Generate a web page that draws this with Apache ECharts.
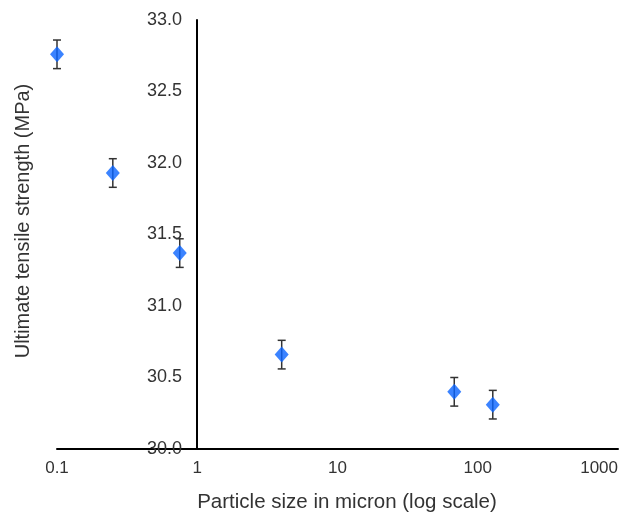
<!DOCTYPE html>
<html>
<head>
<meta charset="utf-8">
<script src="https://cdn.jsdelivr.net/npm/echarts@6/dist/echarts.min.js"></script>
<style>
  html, body { margin: 0; padding: 0; background: #fff; }
  #chart { width: 629px; height: 513px; }
</style>
</head>
<body>
<div id="chart"></div>
<script>
  // particle size (micron) vs ultimate tensile strength (MPa)
  var particleSize = [0.1, 0.25, 0.75, 4, 68, 128]
  var strength = [32.76, 31.93, 31.37, 30.66, 30.40, 30.31]
  var errorBar = [0.1, 0.1, 0.1, 0.1, 0.1, 0.1]
  var yTicks = [30.0, 30.5, 31.0, 31.5, 32.0, 32.5, 33.0]

  var points = particleSize.map(function (x, i) { return [x, strength[i]] })
  var errors = particleSize.map(function (x, i) {
    return [x, strength[i] - errorBar[i], strength[i] + errorBar[i]]
  })

  var font = 'Liberation Sans, Arial, sans-serif'
  var chart = echarts.init(document.getElementById('chart'))

  chart.setOption({
    animation: false,
    grid: [
      {left: 57, right: 11, top: 20, bottom: 64, outerBoundsMode: 'none', containLabel: false},
      // second grid only carries the visible y axis, which crosses at x = 1
      {left: 197, right: 11, top: 20, bottom: 64, outerBoundsMode: 'none', containLabel: false}
    ],
    graphic: [{
      type: 'text',
      x: 23,
      y: 221,
      rotation: Math.PI / 2,
      style: {
        text: 'Ultimate tensile strength (MPa)',
        fontFamily: font,
        fontSize: 20,
        fill: '#333',
        align: 'center',
        verticalAlign: 'middle'
      }
    }],
    xAxis: [{
      gridIndex: 0,
      type: 'log',
      logBase: 10,
      min: 0.1,
      max: 1000,
      name: 'Particle size in micron (log scale)',
      nameLocation: 'middle',
      nameGap: 43,
      nameTextStyle: {fontFamily: font, fontSize: 20.5, color: '#333', padding: [0, 0, 0, 19]},
      axisLine: {lineStyle: {color: '#000', width: 2}},
      axisTick: {show: false},
      splitLine: {show: false},
      axisLabel: {
        fontFamily: font, fontSize: 17, color: '#333', margin: 11,
        alignMaxLabel: 'right',
        formatter: function (v) { return String(v) }
      }
    }, {
      gridIndex: 1,
      type: 'value',
      show: false
    }],
    yAxis: [{
      gridIndex: 0,
      type: 'value',
      min: 30,
      max: 33,
      interval: 0.5,
      show: false
    }, {
      gridIndex: 1,
      type: 'value',
      min: 30,
      max: 33,
      interval: 0.5,
      axisLine: {show: true, lineStyle: {color: '#000', width: 2}},
      axisTick: {show: false},
      splitLine: {show: false},
      axisLabel: {
        fontFamily: font, fontSize: 18, color: '#333', margin: 15,
        formatter: function (v) { return yTicks.indexOf(v) >= 0 ? v.toFixed(1) : '' }
      }
    }],
    series: [{
      type: 'custom',
      xAxisIndex: 0,
      yAxisIndex: 0,
      data: errors,
      z: 2,
      renderItem: function (params, api) {
        var top = api.coord([api.value(0), api.value(2)])
        var bottom = api.coord([api.value(0), api.value(1)])
        var cap = 4
        var style = {stroke: '#333', lineWidth: 1.5}
        return {
          type: 'group',
          children: [
            {type: 'line', shape: {x1: top[0], y1: top[1], x2: bottom[0], y2: bottom[1]}, style: style},
            {type: 'line', shape: {x1: top[0] - cap, y1: top[1], x2: top[0] + cap, y2: top[1]}, style: style},
            {type: 'line', shape: {x1: bottom[0] - cap, y1: bottom[1], x2: bottom[0] + cap, y2: bottom[1]}, style: style}
          ]
        }
      }
    }, {
      type: 'scatter',
      xAxisIndex: 0,
      yAxisIndex: 0,
      data: points,
      z: 3,
      symbol: 'diamond',
      symbolSize: [14, 16],
      itemStyle: {color: '#0a64ff'}
    }]
  })
</script>
</body>
</html>
